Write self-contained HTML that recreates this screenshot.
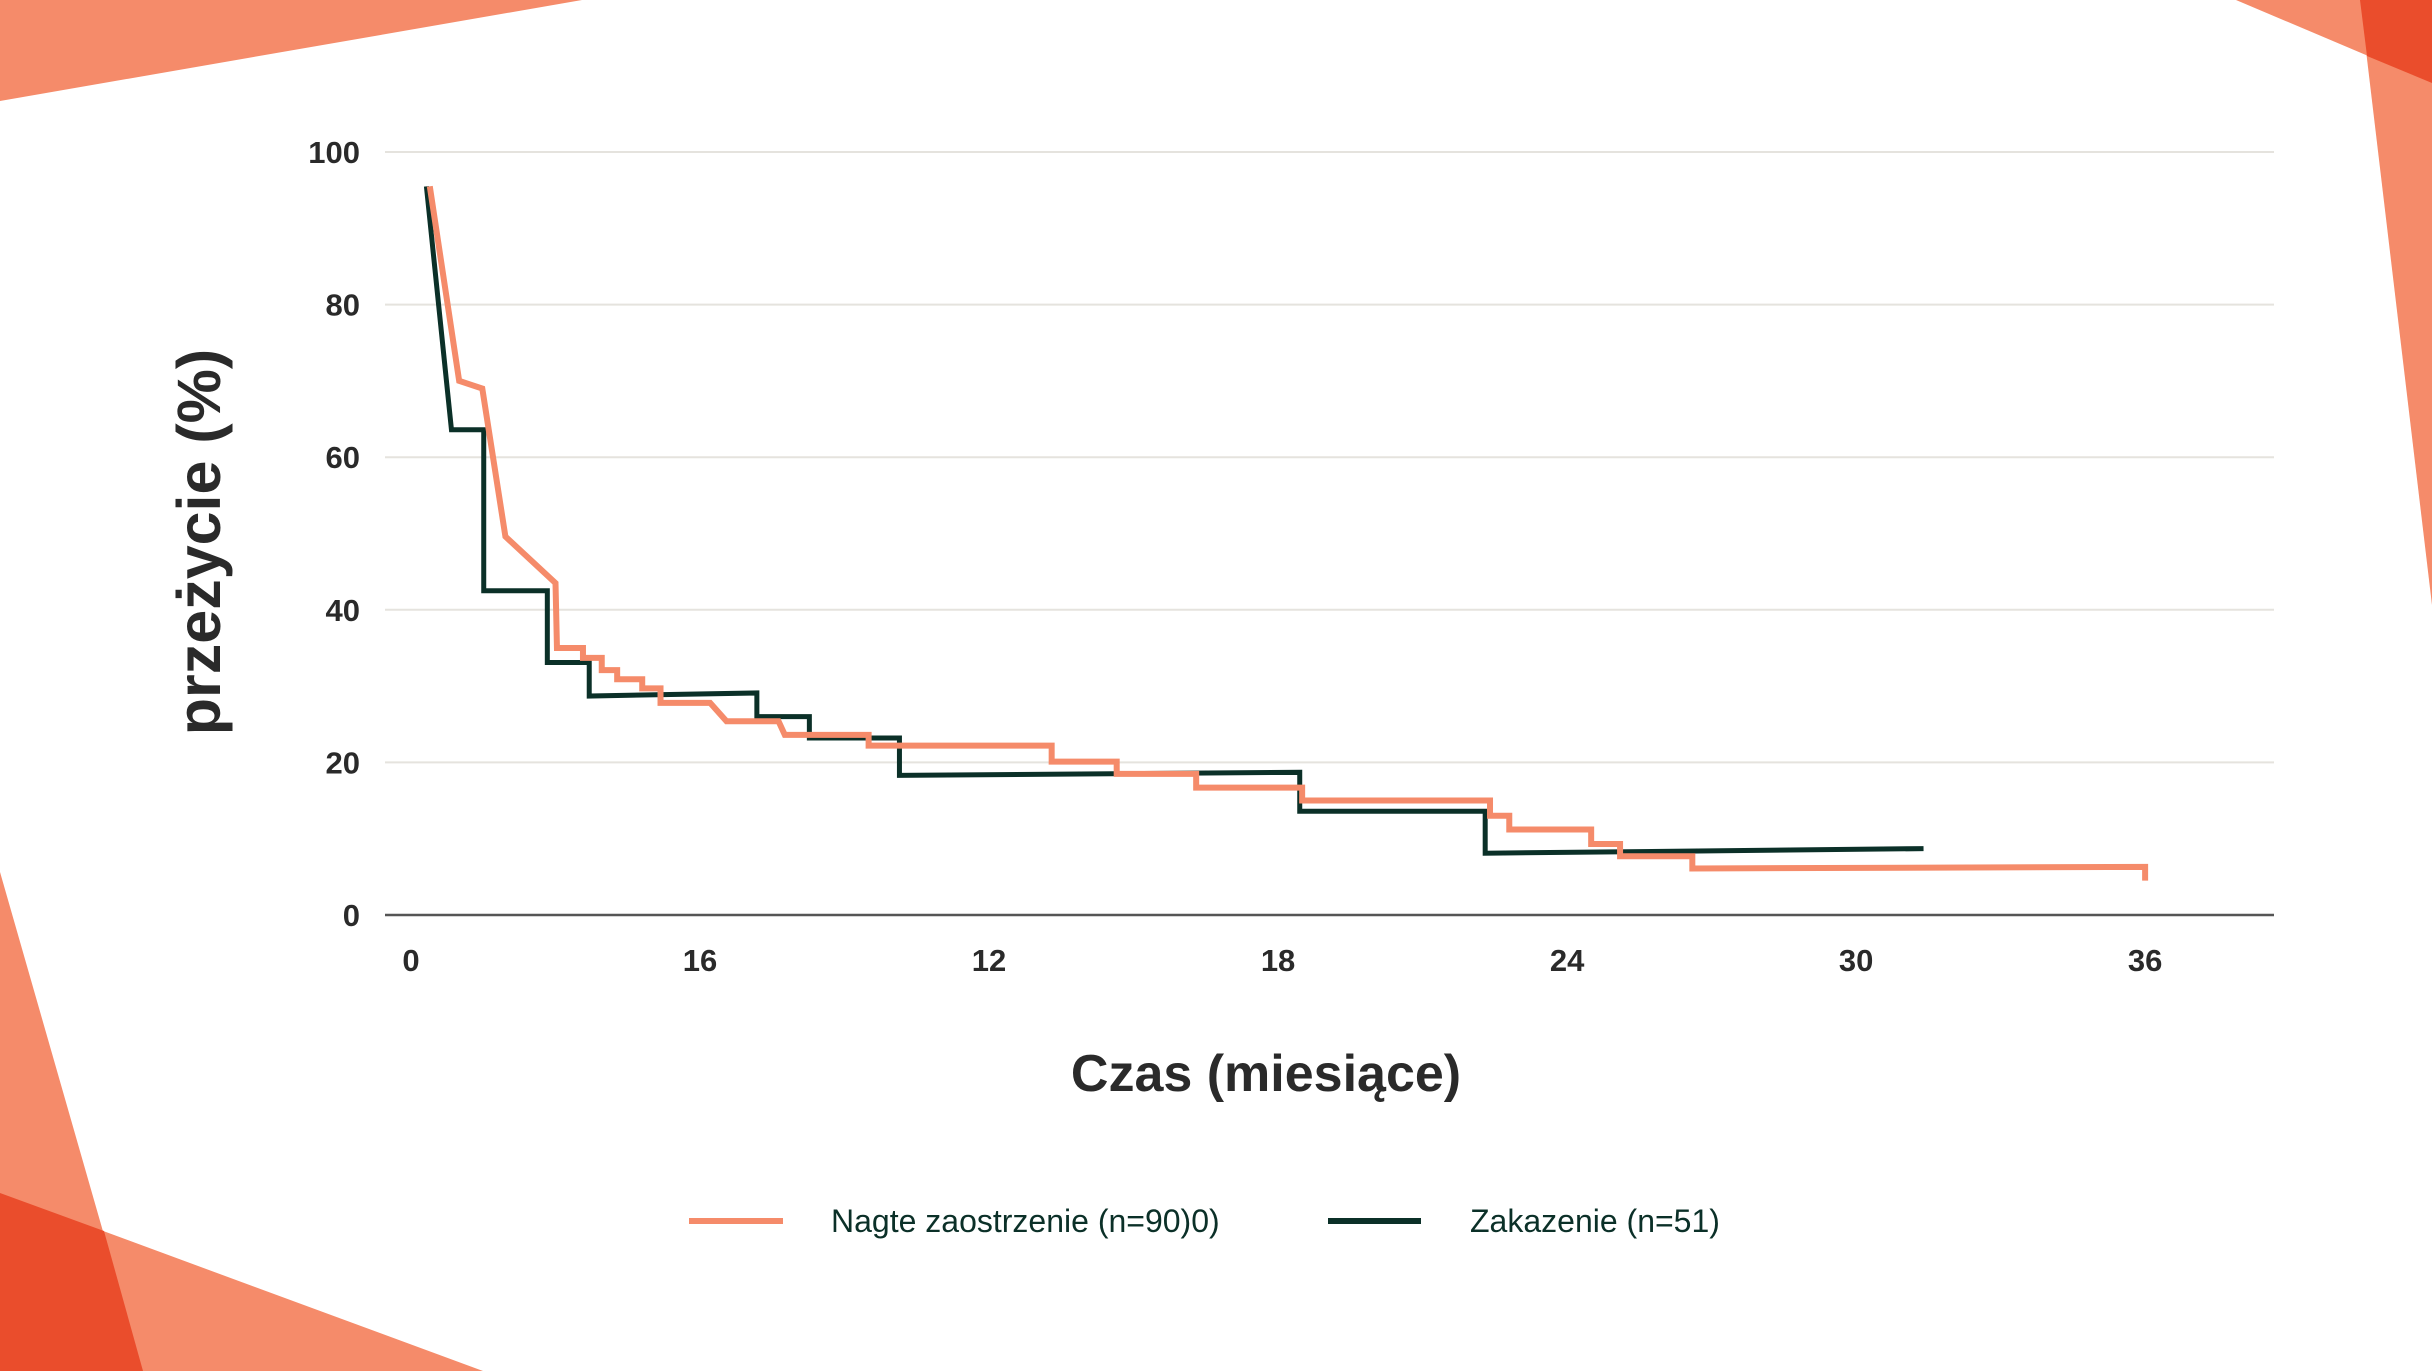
<!DOCTYPE html>
<html><head><meta charset="utf-8"><style>
html,body{margin:0;padding:0;background:#fff;}
svg{display:block;font-family:"Liberation Sans",sans-serif;}
</style></head><body>
<svg id="chart" width="2432" height="1371" viewBox="0 0 2432 1371" xmlns="http://www.w3.org/2000/svg">
<g>
<polygon points="0,0 582,0 0,101" fill="#f58b6a"/>
<polygon points="2236,0 2432,0 2432,83" fill="#f58b6a"/>
<polygon points="2360,0 2432,0 2432,605" fill="#f58b6a"/>
<polygon points="2360,0 2432,0 2432,83 2367,56" fill="#ea4d2c"/>
<polygon points="0,872 143,1371 0,1371" fill="#f58b6a"/>
<polygon points="0,1193 483,1371 0,1371" fill="#f58b6a"/>
<polygon points="0,1193 104,1231 143,1371 0,1371" fill="#ea4d2c"/>
</g>
<g id="grid"></g>
<g id="yticks"></g>
<g id="xticks"></g>
<g id="series"></g>
<text transform="translate(220,542) rotate(-90)" text-anchor="middle" font-size="61" font-weight="bold" fill="#2a2a2a">przeżycie (%)</text>
<text x="1266" y="1091" text-anchor="middle" font-size="52" font-weight="bold" fill="#2a2a2a">Czas (miesiące)</text>
<g>
<g>
<line x1="689" y1="1221" x2="783" y2="1221" stroke="#f58b6a" stroke-width="6"/>
<text x="831" y="1232" font-size="32" fill="#0b3028">Nagte zaostrzenie (n=90)0)</text>
</g>
<g>
<line x1="1328" y1="1221" x2="1421" y2="1221" stroke="#0b3028" stroke-width="6"/>
<text x="1470" y="1232" font-size="32" fill="#0b3028">Zakazenie (n=51)</text>
</g>
</g>
</svg>
<script>
const yTicks=[0,20,40,60,80,100];
const xTickValues=[0,6,12,18,24,30,36];
const xTickLabels=["0","16","12","18","24","30","36"];
const nagteT=[0.39,1.0,1.48,1.96,3.0,3.03,3.57,3.57,3.96,3.96,4.28,4.28,4.8,4.8,5.18,5.18,6.21,6.55,7.63,7.76,9.5,9.5,13.3,13.3,14.65,14.65,16.3,16.3,18.5,18.5,22.4,22.4,22.8,22.8,24.5,24.5,25.1,25.1,26.6,26.6,36,36];
const nagteV=[95.5,70,69,49.6,43.5,35,35,33.7,33.7,32.1,32.1,30.9,30.9,29.7,29.7,27.8,27.8,25.4,25.4,23.6,23.6,22.2,22.2,20.1,20.1,18.5,18.5,16.7,16.7,15,15,13,13,11.2,11.2,9.3,9.3,7.7,7.7,6.1,6.3,4.5];
const zakT=[0.32,0.84,1.51,1.51,2.83,2.83,3.7,3.7,7.18,7.18,8.27,8.27,10.14,10.14,18.45,18.45,22.3,22.3,31.4];
const zakV=[95.5,63.6,63.6,42.5,42.5,33.1,33.1,28.7,29.1,26,26,23.2,23.2,18.3,18.7,13.6,13.6,8.1,8.7];
const NS="http://www.w3.org/2000/svg";
const X0=411,XS=48.17,Y0=915,YS=7.63;
function xs(t){return X0+t*XS;}
function ys(v){return Y0-v*YS;}
const grid=document.getElementById('grid'),yt=document.getElementById('yticks'),xt=document.getElementById('xticks'),ser=document.getElementById('series');
yTicks.forEach(v=>{
 const l=document.createElementNS(NS,'line');
 
 
 l.setAttribute('x1',385);l.setAttribute('x2',2274);l.setAttribute('y1',ys(v));l.setAttribute('y2',ys(v));
 l.setAttribute('stroke',v===0?'#555':'#e5e3de');l.setAttribute('stroke-width',v===0?2.5:2);
 grid.appendChild(l);
 const t=document.createElementNS(NS,'text');
 
 
 t.setAttribute('x',360);t.setAttribute('y',ys(v)+11);t.setAttribute('text-anchor','end');
 t.setAttribute('font-size',31);t.setAttribute('font-weight','bold');t.setAttribute('fill','#2a2a2a');
 t.textContent=v;yt.appendChild(t);
});
xTickValues.forEach((v,i)=>{
 const t=document.createElementNS(NS,'text');
 
 
 t.setAttribute('x',xs(v));t.setAttribute('y',971);t.setAttribute('text-anchor','middle');
 t.setAttribute('font-size',31);t.setAttribute('font-weight','bold');t.setAttribute('fill','#2a2a2a');
 t.textContent=xTickLabels[i];xt.appendChild(t);
});
function draw(T,V,color,w,name){
 const p=document.createElementNS(NS,'polyline');
 
 
 p.setAttribute('points',T.map((t,i)=>xs(t)+','+ys(V[i])).join(' '));
 p.setAttribute('fill','none');p.setAttribute('stroke',color);p.setAttribute('stroke-width',w);
 p.setAttribute('stroke-linejoin','miter');
 ser.appendChild(p);
}
draw(zakT,zakV,'#0b3028',5,'series-zakazenie');
draw(nagteT,nagteV,'#f58b6a',6,'series-nagte');
</script>
</body></html>
